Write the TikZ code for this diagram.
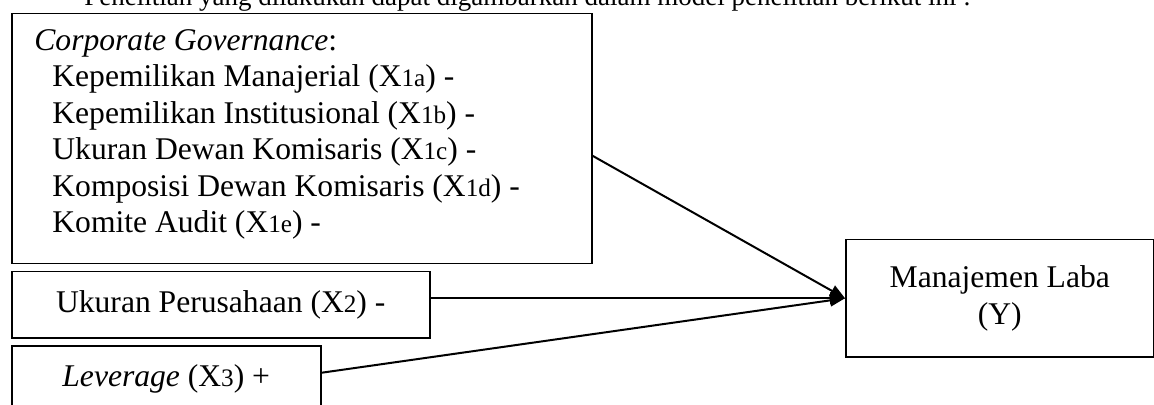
\documentclass[tikz,border=0pt]{standalone}
\usepackage{fontspec}
\setmainfont{Liberation Serif}
\usetikzlibrary{arrows.meta,positioning}

\tikzset{
  varbox/.style={draw, line width=0.75pt, inner sep=0pt,
    font=\fontsize{15.8}{18.25}\selectfont},
  link/.style={line width=1pt, -{Triangle[length=7.5pt,width=6pt]}}
}
\newcommand{\subidx}[1]{{\fontsize{12.6}{12.6}\selectfont #1}}

\begin{document}
\begin{tikzpicture}[x=0.5pt,y=-0.5pt]
  \useasboundingbox (0,0) rectangle (1154,405);
  \clip (0,0) rectangle (1154,405);
  % Kalimat pengantar (terpotong di tepi atas)
  \node[anchor=base west, inner sep=0pt, font=\fontsize{13.5}{16}\selectfont]
    (intro) at (84,6) {Penelitian yang dilakukan dapat digambarkan dalam model penelitian berikut ini :};
  % Variabel X1: Corporate Governance
  \node[varbox, anchor=north west, minimum width=290pt, minimum height=125pt] (cg) at (11,13) {};
  \node[anchor=north west, align=left, inner sep=0pt, font=\fontsize{15.8}{18.25}\selectfont]
    (cglist) at ([xshift=11.5pt,yshift=-8pt]cg.north west)
    {\textit{Corporate Governance}:\\
     \hspace*{9pt}Kepemilikan Manajerial (X\subidx{1a}) -\\
     \hspace*{9pt}Kepemilikan Institusional (X\subidx{1b}) -\\
     \hspace*{9pt}Ukuran Dewan Komisaris (X\subidx{1c}) -\\
     \hspace*{9pt}Komposisi Dewan Komisaris (X\subidx{1d}) -\\
     \hspace*{9pt}Komite Audit (X\subidx{1e}) -};
  % Variabel X2 dan X3
  \node[varbox, anchor=north west, minimum width=209pt, minimum height=33pt] (size) at (11,271)
    {Ukuran Perusahaan (X\subidx{2}) -};
  \node[varbox, anchor=north west, minimum width=154.5pt, minimum height=33pt] (lev) at (11,345)
    {\textit{Leverage} (X\subidx{3}) +};
  % Variabel Y
  \node[varbox, anchor=north west, minimum width=154pt, minimum height=58.5pt, align=center]
    (laba) at (845,239) {Manajemen Laba\\(Y)};
  % Panah pengaruh
  \draw[link] ([yshift=-8.5pt]cg.east) -- (laba.west);
  \draw[link] (size.east |- laba.west) -- (laba.west);
  \draw[link] ([yshift=3pt]lev.east) -- (laba.west);
\end{tikzpicture}
\end{document}
